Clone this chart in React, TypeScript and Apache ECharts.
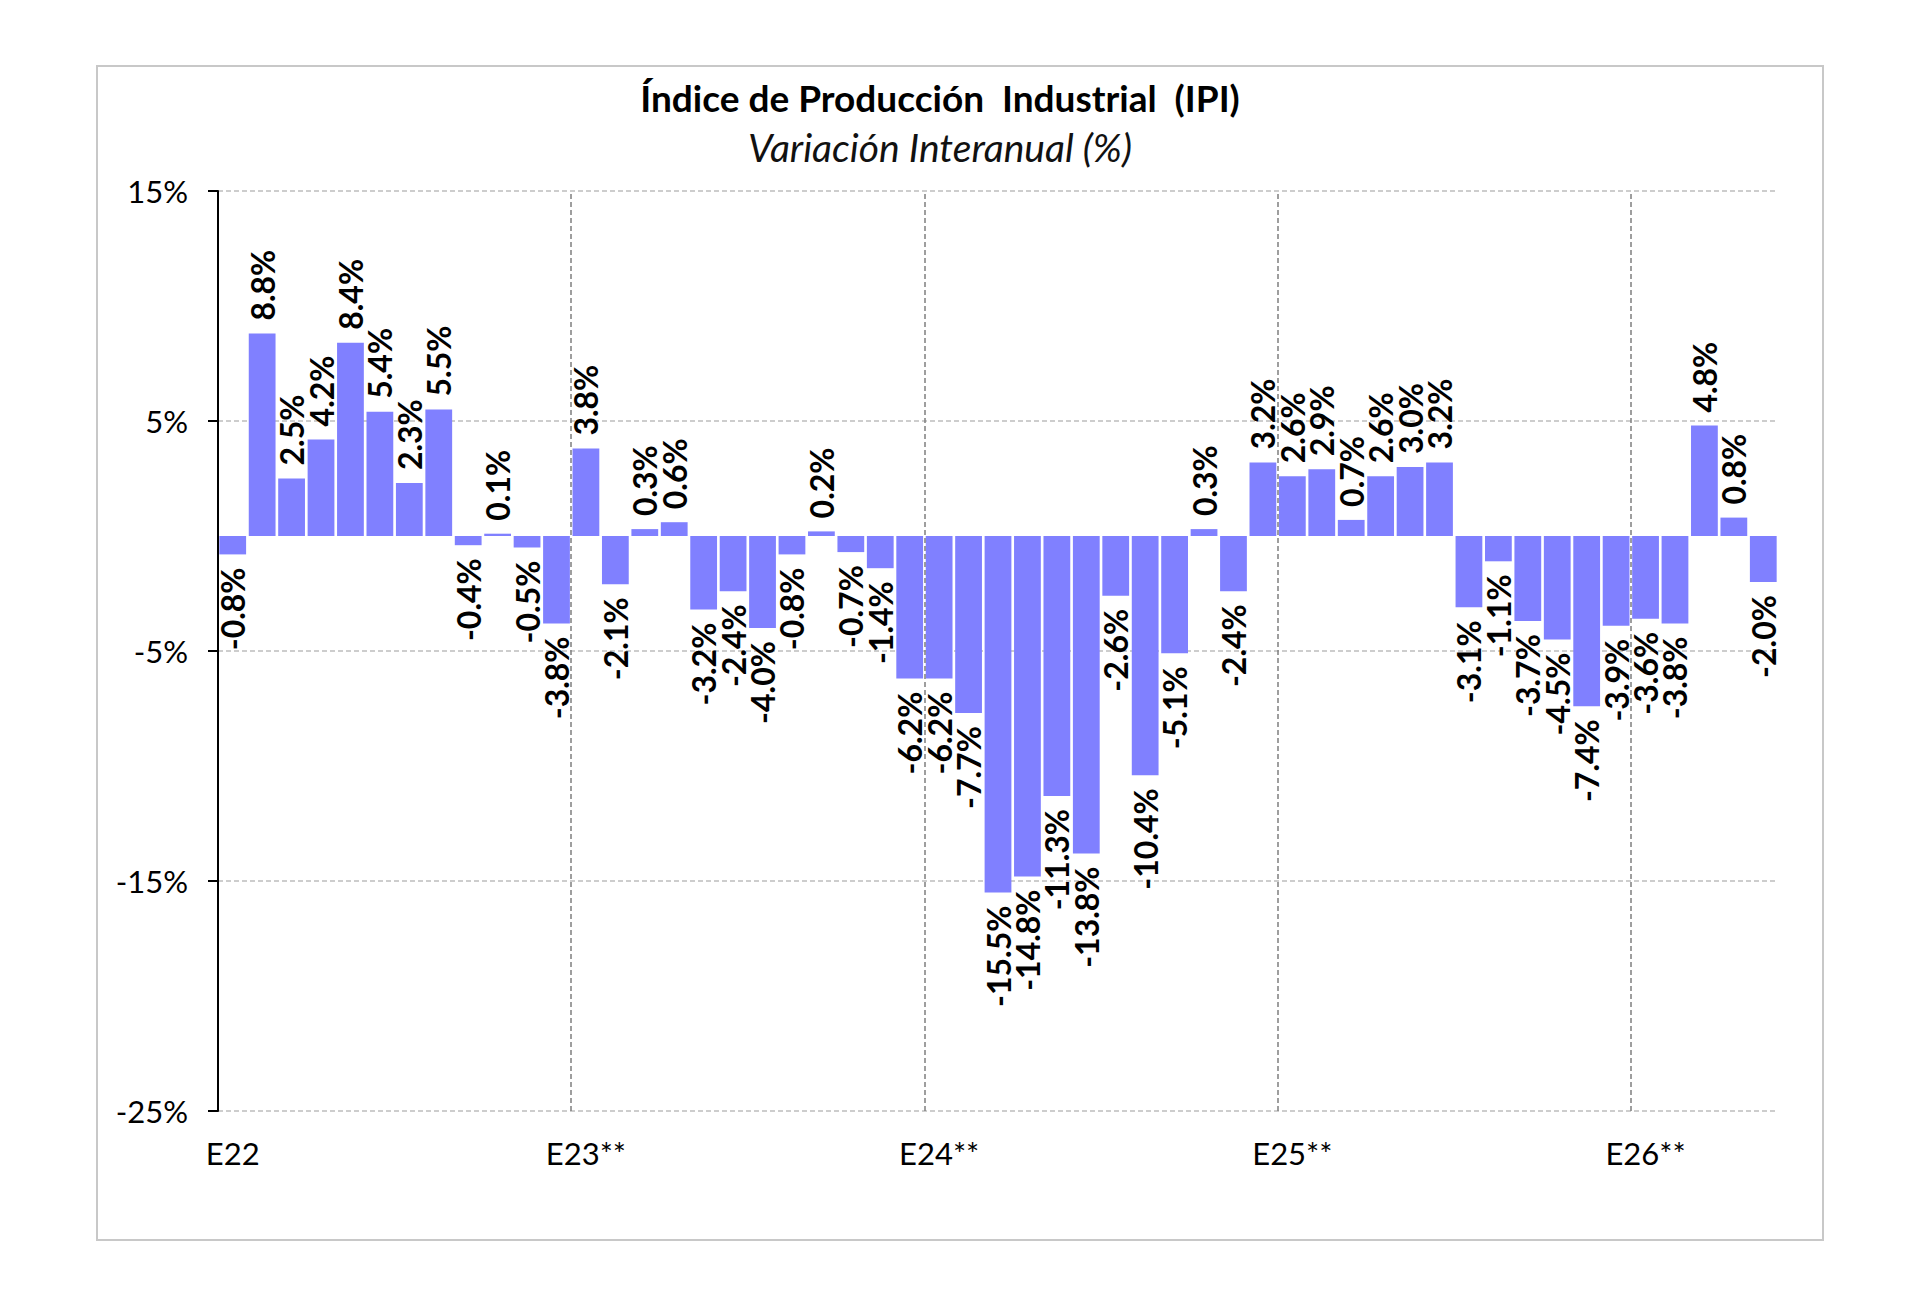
import React, { useEffect, useRef } from "react";
import * as echarts from "echarts";

const months = ["Ene", "Feb", "Mar", "Abr", "May", "Jun", "Jul", "Ago", "Sep", "Oct", "Nov", "Dic"];
const years = ["2022", "2023", "2024", "2025", "2026"];
const yearTickLabels = ["E22", "E23**", "E24**", "E25**", "E26**"];

const values2022 = [-0.8, 8.8, 2.5, 4.2, 8.4, 5.4, 2.3, 5.5, -0.4, 0.1, -0.5, -3.8];
const values2023 = [3.8, -2.1, 0.3, 0.6, -3.2, -2.4, -4.0, -0.8, 0.2, -0.7, -1.4, -6.2];
const values2024 = [-6.2, -7.7, -15.5, -14.8, -11.3, -13.8, -2.6, -10.4, -5.1, 0.3, -2.4, 3.2];
const values2025 = [2.6, 2.9, 0.7, 2.6, 3.0, 3.2, -3.1, -1.1, -3.7, -4.5, -7.4, -3.9];
const values2026 = [-3.6, -3.8, 4.8, 0.8, -2.0];

const titleText = "Índice de Producción  Industrial  (IPI)";
const subtitleText = "Variación Interanual (%)";

const FONT = "Lato, 'Noto Sans', sans-serif";

export default function App() {
  const ref = useRef<HTMLDivElement>(null);

  useEffect(() => {
    if (!ref.current) return;
    const chart = echarts.init(ref.current, null, { renderer: "svg" });

    const yearly = [values2022, values2023, values2024, values2025, values2026];
    const categories: string[] = [];
    const values: number[] = [];
    yearly.forEach((arr, yi) => {
      arr.forEach((v, mi) => {
        categories.push(months[mi] + " " + years[yi]);
        values.push(v);
      });
    });
    // year boundaries (index of each January)
    const yearStarts = yearly.map((_, yi) => yi * 12);

    const option: any = {
      animation: false,
      backgroundColor: "#ffffff",
      grid: { left: 218, right: 142, top: 191, bottom: 197, containLabel: false },
      graphic: [
        {
          type: "rect",
          z: -10,
          shape: { x: 97, y: 66, width: 1726, height: 1174 },
          style: { fill: "none", stroke: "#c8c8c8", lineWidth: 2 },
        },
        {
          type: "text",
          x: 940,
          y: 97,
          style: {
            text: titleText,
            fontFamily: FONT,
            fontWeight: "bold",
            fontSize: 37,
            fill: "#000",
            align: "center",
            verticalAlign: "middle",
          },
        },
        {
          type: "text",
          x: 940,
          y: 147,
          style: {
            text: subtitleText,
            fontFamily: FONT,
            fontStyle: "italic",
            fontSize: 39,
            fill: "#111",
            align: "center",
            verticalAlign: "middle",
          },
        },
      ],
      xAxis: [
        {
          type: "category",
          data: categories,
          boundaryGap: true,
          axisLine: { show: false },
          axisTick: { show: false },
          axisLabel: {
            interval: (i: number) => i % 12 === 0,
            formatter: (_v: string, i: number) => yearTickLabels[Math.floor(i / 12)] || "",
            fontFamily: FONT,
            fontSize: 31,
            color: "#000",
            margin: 26,
          },
          splitLine: { show: false },
        },
        {
          type: "value",
          show: false,
          min: 0,
          max: categories.length,
          splitLine: { show: false },
        },
      ],
      yAxis: {
        type: "value",
        min: -25,
        max: 15,
        interval: 10,
        axisLine: { show: true, lineStyle: { color: "#000", width: 2 } },
        axisTick: { show: true, length: 10, lineStyle: { color: "#000", width: 2 } },
        axisLabel: {
          formatter: "{value}%",
          fontFamily: FONT,
          fontSize: 31,
          color: "#000",
          margin: 30,
        },
        splitLine: {
          show: true,
          lineStyle: { color: "#bdbdbd", type: [5, 3], width: 1.5 },
        },
      },
      series: [
        {
          type: "line",
          xAxisIndex: 1,
          data: [],
          silent: true,
          markLine: {
            silent: true,
            symbol: ["none", "none"],
            label: { show: false },
            lineStyle: { color: "#7f7f7f", type: [5, 3], width: 1.5 },
            data: yearStarts.slice(1).map((x) => ({ xAxis: x })),
          },
        },
        {
          type: "bar",
          xAxisIndex: 0,
          barCategoryGap: "9%",
          itemStyle: { color: "#8080ff" },
          z: 3,
          label: {
            show: true,
            rotate: 90,
            verticalAlign: "middle",
            distance: 13,
            fontFamily: FONT,
            fontWeight: "bold",
            fontSize: 32,
            color: "#000",
            formatter: (p: any) => Number(p.value).toFixed(1) + "%",
          },
          data: values.map((v) => ({
            value: v,
            label: { position: v >= 0 ? "top" : "bottom", align: v >= 0 ? "left" : "right" },
          })),
        },
      ],
    };

    chart.setOption(option);
    return () => chart.dispose();
  }, []);

  return (
    <div
      ref={ref}
      style={{ position: "fixed", left: 0, top: 0, width: 1920, height: 1308, background: "#fff" }}
    />
  );
}
